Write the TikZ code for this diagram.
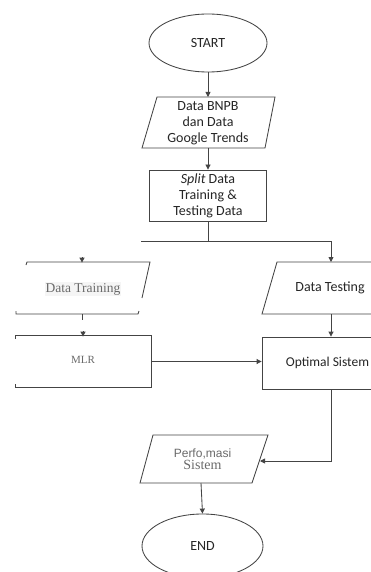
\documentclass[tikz,border=0pt]{standalone}
\usepackage{fontspec}
\setmainfont{Carlito}
\newfontfamily\sergray{Liberation Serif}
\newfontfamily\arialf{Liberation Sans}
\usetikzlibrary{shapes.geometric,arrows.meta}
\definecolor{ln}{HTML}{444444}
\definecolor{tx}{HTML}{262626}
\definecolor{gtx}{HTML}{6A6A6A}
\tikzset{
  lnk/.style={draw=ln, line width=0.85pt},
  arr/.style={lnk, -{Triangle[length=5pt,width=5pt]}},
  sanstxt/.style={font=\fontsize{14}{16}\selectfont, text=tx, align=center, inner sep=0pt},
  sertxt/.style={font=\sergray\fontsize{13.5}{16}\selectfont, text=gtx, inner sep=1pt, fill=black!4},
  term/.style={ellipse, lnk, inner sep=0pt, font=\fontsize{14}{16}\selectfont, text=tx},
  procbox/.style={rectangle, lnk, sanstxt},
  plainbox/.style={rectangle, inner sep=0pt},
}
\begin{document}
\begin{tikzpicture}[x=1pt,y=-1pt]
\path[use as bounding box, fill=white] (0,0) rectangle (371,572);
\clip (0,0) rectangle (371,572);

% START
\node[term, minimum width=118pt, minimum height=58pt] (start) at (208,43) {START};

% Data BNPB parallelogram
\draw[lnk] (157,97) -- (275,97) -- (265,148) -- (142,148) -- cycle;
\coordinate (bnpbN) at (208,97);
\coordinate (bnpbS) at (208,148);
\node[sanstxt] (bnpb) at (208,123) {Data BNPB\\dan Data\\Google Trends};
\draw[arr] (start.south) -- (bnpbN);

% Split box
\node[procbox, minimum width=117pt, minimum height=51pt] (split) at (208,195.5) {\textit{Split} Data\\Training \&\\Testing Data};
\draw[arr] (bnpbS) -- (split.north);

% Junction
\coordinate (j) at (208,241);
\coordinate (jl) at (141,241);
\coordinate (jr) at (331,241);
\draw[lnk] (split.south) -- (j);
\draw[lnk] (jl) -- (jr);

% Data Testing parallelogram
\draw[lnk] (277,262) -- (398,262) -- (383,314) -- (262,314) -- cycle;
\coordinate (testN) at (331,262);
\coordinate (testS) at (331,314);
\node[sanstxt] (testing) at (330,288) {Data Testing};
\draw[arr] (jr) -- (testN);

% Optimal Sistem
\node[rectangle, lnk, minimum width=138pt, minimum height=52pt] (opt) at (331,363) {};
\node[sanstxt, font=\fontsize{13.5}{16}\selectfont] (opttxt) at (327.5,363) {Optimal Sistem};
\draw[arr] (testS) -- (opt.north);

% Data Training (damaged outline)
\draw[lnk] (26,265) -- (27,262) -- (150,262) -- (142,298);
\draw[lnk] (16,311) -- (16,314) -- (138,314) -- (139,311);
\node[sertxt] (training) at (83,289) {Data Training};
\coordinate (trainIn) at (82,257);
\coordinate (trainN) at (82,262.6);
\draw[arr] (trainIn) -- (trainN);
\coordinate (trainS) at (82,314);
\coordinate (trainStub) at (82,320);
\draw[lnk, line width=0.6pt] (trainS) -- (trainStub);

% MLR (damaged outline)
\node[plainbox, minimum width=135pt, minimum height=51pt] (mlrbox) at (83.5,361.5) {};
\draw[lnk] ([yshift=-3pt]mlrbox.north west) -- (mlrbox.north west) -- (mlrbox.north east) -- (mlrbox.south east) -- (mlrbox.south west) -- ([yshift=3pt]mlrbox.south west);
\node[sertxt, font=\sergray\fontsize{11}{13}\selectfont, fill=none] (mlr) at (83,360) {MLR};
\coordinate (mlrIn) at (83,331);
\coordinate (mlrN) at (83,336.6);
\draw[arr] (mlrIn) -- (mlrN);
\draw[arr] (mlrbox.east) -- (mlrbox.east -| opt.west);

% Performasi Sistem parallelogram
\draw[lnk] (153,435) -- (268,435) -- (252,483) -- (140,483) -- cycle;
\coordinate (perfoE) at (260,461);
\coordinate (perfoS) at (201,483);
\node[inner sep=0pt, align=center, text=gtx] (perfo) at (202.5,459.5)
  {{\arialf\fontsize{12}{15}\selectfont Perfo,masi}\\{\sergray\fontsize{14}{15}\selectfont Sistem}};
\draw[arr] (opt.south) |- (perfoE);

% END
\node[term, minimum width=121pt, minimum height=64pt] (fin) at (202.5,546) {END};
\draw[arr] (perfoS) -- (fin.north);
\end{tikzpicture}
\end{document}
